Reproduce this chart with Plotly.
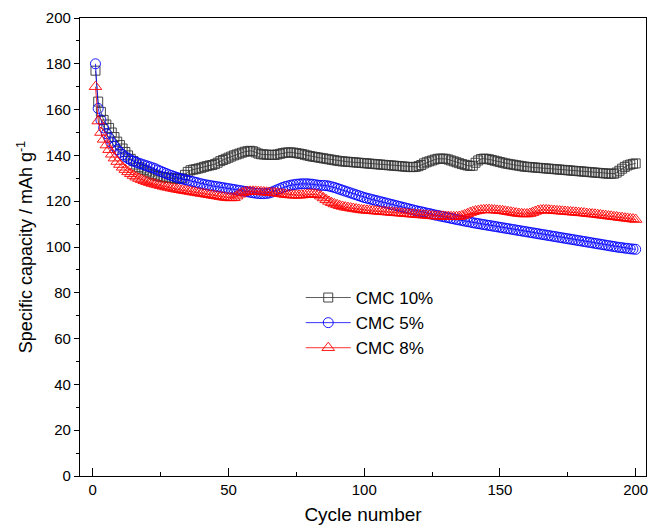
import plotly.graph_objects as go

cycles = list(range(1, 201))

cmc10 = [
    177, 163.5, 159, 155.5, 153.5, 152, 150, 148, 146, 144.5,
    143, 141.5, 140, 138.5, 137.5, 136, 135, 134.3, 133.7, 133,
    132.5, 131.8, 131.3, 131, 130.7, 130.5, 130.3, 130.2, 130, 130,
    129.8, 129.8, 130, 131.5, 132.8, 133.5, 133.8, 134, 134.3, 134.6,
    135, 135.3, 135.6, 135.8, 136.2, 136.8, 137.5, 138, 138.5, 139,
    139.5, 140, 140.4, 140.8, 141.2, 141.6, 141.8, 142, 141.8, 141.3,
    140.8, 140.5, 140.4, 140.3, 140.3, 140.2, 140.2, 140.4, 140.7, 141,
    141.2, 141.3, 141.3, 141.2, 141, 140.8, 140.6, 140.3, 140, 139.7,
    139.5, 139.3, 139.1, 138.9, 138.7, 138.5, 138.3, 138.1, 137.9, 137.7,
    137.5, 137.4, 137.3, 137.2, 137.1, 137, 136.9, 136.8, 136.7, 136.6,
    136.5, 136.4, 136.3, 136.2, 136.1, 136, 135.9, 135.8, 135.7, 135.6,
    135.5, 135.4, 135.3, 135.2, 135.1, 135, 134.9, 134.9, 135, 135.3,
    135.8, 136.5, 137, 137.4, 137.8, 138.2, 138.5, 138.6, 138.6, 138.5,
    138.2, 137.8, 137.4, 137, 136.6, 136.2, 135.9, 135.6, 135.4, 135.5,
    136.8, 137.8, 138.4, 138.6, 138.5, 138.3, 138, 137.7, 137.4, 137.1,
    136.8, 136.5, 136.3, 136.1, 135.9, 135.7, 135.5, 135.3, 135.1, 135,
    134.9, 134.8, 134.7, 134.6, 134.5, 134.4, 134.3, 134.2, 134.1, 134,
    133.9, 133.8, 133.7, 133.6, 133.5, 133.4, 133.3, 133.2, 133.1, 133,
    132.9, 132.8, 132.7, 132.6, 132.5, 132.4, 132.3, 132.2, 132.1, 132,
    132, 132, 132.5, 133.3, 134.2, 135, 135.6, 136, 136.3, 136.5,
]

cmc5 = [
    180, 160.5, 155.5, 152, 149.5, 147.5, 145.5, 144, 142.5, 141.3,
    140.3, 139.4, 138.7, 138, 137.5, 137, 136.6, 136.2, 135.8, 135.4,
    135, 134.6, 134.2, 133.6, 133.1, 132.6, 132.1, 131.6, 131.2, 130.8,
    130.4, 130, 129.7, 129.4, 129.1, 128.8, 128.5, 128.2, 127.9, 127.6,
    127.3, 127.1, 126.9, 126.7, 126.5, 126.3, 126.1, 125.9, 125.7, 125.5,
    125.3, 125.1, 124.9, 124.7, 124.5, 124.3, 124.1, 123.9, 123.7, 123.5,
    123.4, 123.3, 123.3, 123.4, 123.6, 124, 124.5, 125, 125.5, 126,
    126.4, 126.7, 127, 127.2, 127.4, 127.5, 127.6, 127.6, 127.6, 127.5,
    127.4, 127.2, 127, 126.9, 126.9, 126.8, 126.6, 126.3, 126, 125.6,
    125.2, 124.8, 124.4, 124, 123.6, 123.2, 122.8, 122.4, 122, 121.6,
    121.3, 121, 120.7, 120.4, 120.1, 119.8, 119.5, 119.2, 118.9, 118.6,
    118.3, 118, 117.7, 117.4, 117.1, 116.8, 116.5, 116.2, 115.9, 115.6,
    115.4, 115.1, 114.8, 114.6, 114.3, 114, 113.8, 113.5, 113.3, 113,
    112.8, 112.5, 112.3, 112, 111.8, 111.6, 111.3, 111.1, 110.9, 110.6,
    110.4, 110.2, 110, 109.8, 109.6, 109.4, 109.2, 109, 108.8, 108.6,
    108.4, 108.2, 108, 107.8, 107.6, 107.4, 107.2, 107, 106.8, 106.6,
    106.4, 106.2, 106, 105.8, 105.6, 105.4, 105.2, 105, 104.8, 104.6,
    104.4, 104.2, 104, 103.8, 103.6, 103.4, 103.2, 103, 102.8, 102.6,
    102.4, 102.2, 102, 101.8, 101.6, 101.4, 101.2, 101, 100.8, 100.6,
    100.4, 100.2, 100, 99.8, 99.7, 99.5, 99.4, 99.2, 99.1, 99,
]

cmc8 = [
    170, 155, 150, 147, 144.5, 142.5, 140.5, 138.8, 137.3, 136,
    134.8, 133.8, 132.8, 132, 131.2, 130.5, 129.9, 129.4, 128.9, 128.5,
    128.1, 127.7, 127.4, 127.1, 126.8, 126.5, 126.2, 126, 125.7, 125.5,
    125.2, 125, 124.8, 124.6, 124.4, 124.2, 124, 123.8, 123.6, 123.4,
    123.2, 123, 122.8, 122.6, 122.4, 122.2, 122, 121.8, 121.6, 121.5,
    121.4, 121.5, 122.2, 123, 123.6, 124, 124.2, 124.3, 124.3, 124.3,
    124.2, 124.1, 124, 123.9, 123.8, 123.7, 123.6, 123.5, 123.3, 123.1,
    122.9, 122.8, 122.7, 122.6, 122.6, 122.6, 122.7, 122.8, 123, 123.1,
    123.1, 123, 122.8, 122.2, 121.4, 120.6, 119.9, 119.3, 118.8, 118.4,
    118, 117.7, 117.4, 117.2, 117, 116.8, 116.6, 116.4, 116.2, 116.1,
    116, 115.9, 115.8, 115.7, 115.6, 115.5, 115.4, 115.3, 115.2, 115.1,
    115, 114.9, 114.8, 114.7, 114.6, 114.5, 114.4, 114.3, 114.2, 114.1,
    114, 113.9, 113.8, 113.7, 113.6, 113.5, 113.5, 113.4, 113.4, 113.3,
    113.3, 113.2, 113.2, 113.2, 113.3, 113.6, 114, 114.5, 115, 115.4,
    115.7, 115.9, 116.1, 116.2, 116.3, 116.3, 116.2, 116.1, 116, 115.9,
    115.8, 115.6, 115.4, 115.2, 115, 114.8, 114.6, 114.5, 114.4, 114.4,
    114.6, 115, 115.5, 115.9, 116.1, 116.2, 116.2, 116.1, 116, 115.9,
    115.8, 115.7, 115.6, 115.5, 115.4, 115.3, 115.2, 115.1, 115, 114.9,
    114.8, 114.6, 114.5, 114.4, 114.3, 114.1, 114, 113.8, 113.7, 113.5,
    113.4, 113.2, 113.1, 112.9, 112.8, 112.6, 112.5, 112.3, 112.2, 112,
]

names = ["CMC 10%", "CMC 5%", "CMC 8%"]
colors = ["#333333", "#0000ff", "#ff0000"]
symbols = ["square-open", "circle-open", "triangle-up-open"]
sizes = [9, 10, 11]

font = "Arial, Liberation Sans, sans-serif"

fig = go.Figure()
for name, ys, c, s, sz in zip(names, [cmc10, cmc5, cmc8], colors, symbols, sizes):
    fig.add_trace(go.Scatter(
        x=cycles, y=ys, name=name, mode="lines+markers",
        line=dict(color=c, width=0.8),
        marker=dict(symbol=s, size=sz, color=c, line=dict(width=0.9, color=c)),
    ))

fig.update_layout(
    width=651, height=531,
    margin=dict(l=80, r=3, t=18, b=55),
    paper_bgcolor="white", plot_bgcolor="white",
    font=dict(family=font, size=15, color="black"),
    showlegend=True,
    legend=dict(x=0.39, y=0.428, xanchor="left", yanchor="top",
                font=dict(size=17), bgcolor="rgba(0,0,0,0)", itemwidth=45,
                tracegroupgap=0),
)
fig.update_xaxes(
    range=[-4.7, 203.8], tickvals=[0, 50, 100, 150, 200],
    ticks="inside", ticklen=8, tickwidth=1.2, tickcolor="black",
    minor=dict(tickvals=[25, 75, 125, 175], ticks="inside", ticklen=4, tickcolor="black"),
    showline=True, linecolor="black", linewidth=1.2, mirror=True,
    showgrid=False, zeroline=False,
    title=dict(text="Cycle number", font=dict(size=19), standoff=10),
)
fig.update_yaxes(
    range=[0, 200], tickvals=list(range(0, 201, 20)),
    ticks="outside", ticklen=5, tickwidth=1.2, tickcolor="black",
    minor=dict(tickvals=list(range(10, 200, 20)), ticks="outside", ticklen=3, tickcolor="black"),
    showline=True, linecolor="black", linewidth=1.2, mirror=True,
    showgrid=False, zeroline=False,
    title=dict(text="Specific capacity / mAh g<sup>-1</sup>", font=dict(size=18), standoff=8),
)

fig.write_html("out.html", config={"displayModeBar": False},
               post_script="document.body.style.margin='0';")
